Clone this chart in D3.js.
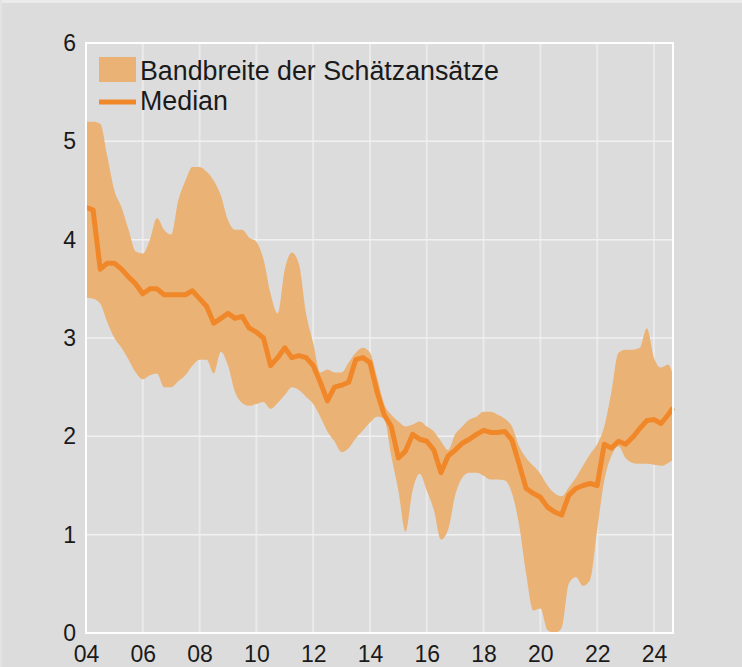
<!DOCTYPE html>
<html>
<head>
<meta charset="utf-8">
<script src="https://cdn.jsdelivr.net/npm/d3@7"></script>
<style>
  body { margin: 0; background: #dcdcdc; }
  svg { display: block; font-family: "Liberation Sans", Arial, sans-serif; }
</style>
</head>
<body>
<svg id="chart" width="742" height="667"></svg>
<script>
// quarterly observations, first quarter of 2004 onwards, last point Aug 2024
let startYear = 2004
let lastDate = 2024.67

let upper = [
    5.20, 5.20, 5.18, 4.85, 4.50, 4.33, 4.10, 3.88, 3.86, 4.00,
    4.22, 4.10, 4.05, 4.40, 4.60, 4.74, 4.74, 4.69, 4.60, 4.45,
    4.20, 4.10, 4.10, 4.02, 3.98, 3.80, 3.45, 3.25, 3.70, 3.87,
    3.75, 3.25, 2.95, 2.65, 2.68, 2.65, 2.65, 2.75, 2.85, 2.90,
    2.85, 2.60, 2.33, 2.22, 2.15, 2.10, 2.12, 2.15, 2.10, 2.05,
    1.95, 1.86, 2.02, 2.10, 2.17, 2.20, 2.25, 2.25, 2.22, 2.18,
    2.10, 1.90, 1.78, 1.70, 1.62, 1.50, 1.42, 1.39, 1.48, 1.58,
    1.70, 1.82, 1.92, 2.10, 2.45, 2.85, 2.88, 2.88, 2.90, 3.10,
    2.80, 2.70, 2.73, 2.62
]

let lower = [
    3.41, 3.40, 3.35, 3.16, 3.00, 2.90, 2.78, 2.65, 2.58, 2.62,
    2.64, 2.50, 2.50, 2.56, 2.62, 2.72, 2.78, 2.78, 2.64, 2.86,
    2.72, 2.45, 2.34, 2.31, 2.33, 2.35, 2.28, 2.34, 2.42, 2.50,
    2.47, 2.40, 2.33, 2.20, 2.05, 1.95, 1.84, 1.88, 1.98, 2.06,
    2.14, 2.20, 2.18, 1.80, 1.45, 1.03, 1.45, 1.62, 1.45, 1.25,
    0.95, 1.05, 1.40, 1.58, 1.63, 1.63, 1.60, 1.56, 1.56, 1.55,
    1.42, 1.10, 0.60, 0.23, 0.25, 0.03, 0.00, 0.05, 0.50, 0.57,
    0.48, 0.54, 1.05, 1.55, 1.80, 1.90, 1.78, 1.73, 1.72, 1.72,
    1.71, 1.70, 1.73, 1.76
]

let median = [
    4.33, 4.30, 3.70, 3.76, 3.76, 3.70, 3.62, 3.55, 3.45, 3.50,
    3.50, 3.44, 3.44, 3.44, 3.44, 3.48, 3.40, 3.32, 3.15, 3.20,
    3.25, 3.20, 3.22, 3.10, 3.06, 3.00, 2.72, 2.80, 2.90, 2.80,
    2.82, 2.80, 2.72, 2.55, 2.36, 2.50, 2.52, 2.55, 2.78, 2.80,
    2.75, 2.45, 2.22, 2.10, 1.78, 1.85, 2.02, 1.97, 1.95, 1.86,
    1.63, 1.80, 1.86, 1.93, 1.97, 2.02, 2.06, 2.04, 2.04, 2.05,
    1.96, 1.72, 1.47, 1.42, 1.38, 1.28, 1.23, 1.20, 1.40, 1.47,
    1.50, 1.52, 1.50, 1.92, 1.88, 1.95, 1.92, 1.99, 2.08, 2.16,
    2.17, 2.13, 2.22, 2.29
]

let yTicks = [0, 1, 2, 3, 4, 5, 6]
let xTicks = [2004, 2006, 2008, 2010, 2012, 2014, 2016, 2018, 2020, 2022, 2024]

let legendItems = ["Bandbreite der Schätzansätze", "Median"]

let bandColor = "#ebb276"
let lineColor = "#f0882a"

let dates = upper.map((d, i) => i < upper.length - 1 ? startYear + i * 0.25 : lastDate)
let rows = dates.map((t, i) => ({t: t, lo: lower[i], hi: upper[i], med: median[i]}))

let margin = {left: 86, top: 43, right: 69, bottom: 34}
let width = 742 - margin.left - margin.right
let height = 667 - margin.top - margin.bottom

let x = d3.scaleLinear().domain([startYear, lastDate]).range([0, width])
let y = d3.scaleLinear().domain([0, 6]).range([height, 0])

let svg = d3.select("#chart")

// light edge along the top and left of the picture
svg.append("rect").attr("width", 742).attr("height", 3).attr("fill", "#ebebeb")
svg.append("rect").attr("width", 2).attr("height", 667).attr("fill", "#e3e3e3")

let g = svg.append("g")
           .attr("transform", "translate(" + margin.left + "," + margin.top + ")")

// grid
g.append("g")
 .selectAll("line")
 .data(xTicks)
 .enter()
 .append("line")
 .attr("x1", d => x(d)).attr("x2", d => x(d))
 .attr("y1", 0).attr("y2", height)
 .attr("stroke", "#eaeaea").attr("stroke-width", 2)

g.append("g")
 .selectAll("line")
 .data(yTicks)
 .enter()
 .append("line")
 .attr("x1", 0).attr("x2", width)
 .attr("y1", d => y(d)).attr("y2", d => y(d))
 .attr("stroke", "#f1f1f1").attr("stroke-width", 1.5)

// band and median
g.append("path")
 .datum(rows)
 .attr("fill", bandColor)
 .attr("d", d3.area().x(d => x(d.t)).y0(d => y(d.lo)).y1(d => y(d.hi)).curve(d3.curveMonotoneX))

g.append("path")
 .datum(rows)
 .attr("fill", "none")
 .attr("stroke", lineColor)
 .attr("stroke-width", 5)
 .attr("stroke-linejoin", "round")
 .attr("d", d3.line().x(d => x(d.t)).y(d => y(d.med)))

// frame
g.append("rect")
 .attr("width", width).attr("height", height)
 .attr("fill", "none")
 .attr("stroke", "#ffffff").attr("stroke-width", 2)

// axes
let yAxis = g.append("g")
             .call(d3.axisLeft(y).tickValues(yTicks).tickSize(0).tickPadding(10).tickFormat(d3.format("d")))
yAxis.select(".domain").remove()
yAxis.selectAll("text")
     .attr("font-size", 23).attr("fill", "#1a1a1a")
     .attr("font-family", "Liberation Sans, Arial, sans-serif")

let xAxis = g.append("g")
             .attr("transform", "translate(0," + height + ")")
             .call(d3.axisBottom(x).tickValues(xTicks).tickSize(0).tickPadding(13)
                     .tickFormat(d => String(d).slice(2)))
xAxis.select(".domain").remove()
xAxis.selectAll("text")
     .attr("font-size", 23).attr("fill", "#1a1a1a")
     .attr("font-family", "Liberation Sans, Arial, sans-serif")

// legend
let legend = svg.append("g").attr("transform", "translate(99,57)")

legend.append("rect")
      .attr("width", 37).attr("height", 25)
      .attr("fill", bandColor)

legend.append("line")
      .attr("x1", 0).attr("x2", 37)
      .attr("y1", 45).attr("y2", 45)
      .attr("stroke", lineColor).attr("stroke-width", 5)

legend.selectAll("text")
      .data(legendItems)
      .enter()
      .append("text")
      .attr("x", 41)
      .attr("y", (d, i) => 23 + i * 30)
      .attr("font-size", 26.8)
      .attr("fill", "#1a1a1a")
      .text(d => d)
</script>
</body>
</html>
